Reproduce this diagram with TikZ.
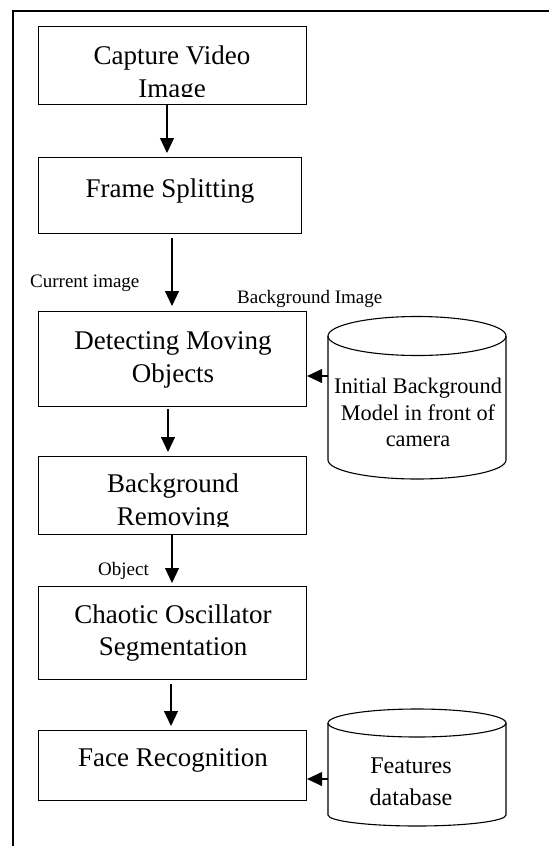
\documentclass[tikz,border=0pt]{standalone}
\usepackage{fontspec}
\setmainfont{Liberation Serif}
\usetikzlibrary{arrows.meta}
\begin{document}
\begin{tikzpicture}[x=1pt,y=-1pt,
  box/.style={draw, line width=1.1pt, inner sep=0pt, anchor=north west},
  big/.style={font=\fontsize{27}{33}\selectfont, inner sep=0pt, anchor=base},
  cyltxt/.style={font=\fontsize{22.3}{26}\selectfont, inner sep=0pt, anchor=base},
  cyltxtb/.style={font=\fontsize{24}{30}\selectfont, inner sep=0pt, anchor=base},
  small/.style={font=\fontsize{19}{22}\selectfont, inner sep=0pt, anchor=base west},
  arr/.style={line width=1.1pt, -{Triangle[length=15pt,width=14pt]}},
  cyl/.style={line width=1.1pt},
  frame/.style={line width=1.3pt}]
\path[use as bounding box] (0,0) rectangle (549,846);
% outer frame
\draw[frame] (13,846) -- (13,11) -- (549,11);

% boxes
\node[box, minimum width=268pt, minimum height=78pt] (cap) at (38,26) {};
\node[box, minimum width=263pt, minimum height=76pt] (frm) at (38,157) {};
\node[box, minimum width=268pt, minimum height=95pt] (det) at (38,311) {};
\node[box, minimum width=268pt, minimum height=78pt] (rem) at (38,456) {};
\node[box, minimum width=268pt, minimum height=93pt] (cha) at (38,586) {};
\node[box, minimum width=268pt, minimum height=70pt] (face) at (38,730) {};

% box texts
\begin{scope}
  \clip (38,26) rectangle (306,96.5);
  \node[big] (capA) at (172,64) {Capture Video};
  \node[big] (capB) at (172,97) {Image};
\end{scope}
\node[big] (frmA) at (170,197) {Frame Splitting};
\node[big] (detA) at (173,349) {Detecting Moving};
\node[big] (detB) at (173,382) {Objects};
\begin{scope}
  \clip (38,456) rectangle (306,526);
  \node[big] (remA) at (173,492) {Background};
  \node[big] (remB) at (173,525) {Removing};
\end{scope}
\node[big] (chaA) at (173,623) {Chaotic Oscillator};
\node[big] (chaB) at (173,655) {Segmentation};
\node[big] (faceA) at (173,766) {Face Recognition};

% cylinders
\node[inner sep=0pt, minimum width=178pt, minimum height=163pt, anchor=north west] (db1) at (328,316) {};
\draw[cyl] (417,336) ellipse [x radius=89pt, y radius=19.5pt];
\draw[cyl] (328,336) -- (328,460) arc[start angle=180, end angle=360, x radius=89pt, y radius=19pt] -- (506,336);
\node[cyltxt] (db1A) at (418,393) {Initial Background};
\node[cyltxt] (db1B) at (418,420) {Model in front of};
\node[cyltxt] (db1C) at (418,446) {camera};

\node[inner sep=0pt, minimum width=178pt, minimum height=117pt, anchor=north west] (db2) at (328,709) {};
\draw[cyl] (417,723) ellipse [x radius=89pt, y radius=14pt];
\draw[cyl] (328,723) -- (328,815) arc[start angle=180, end angle=360, x radius=89pt, y radius=11pt] -- (506,723);
\node[cyltxtb] (db2A) at (411,773) {Features};
\node[cyltxtb] (db2B) at (411,805) {database};

% labels
\node[small] (lcur) at (30,287) {Current image};
\node[small] (lbg) at (237,303) {Background Image};
\node[small] (lobj) at (98,575) {Object};

% connector columns
\coordinate (c1) at (167,0);
\coordinate (c2) at (172,0);
\coordinate (c3) at (168,0);
\coordinate (c4) at (172,0);
\coordinate (c5) at (171,0);
\coordinate (r1) at (0,376);
\coordinate (r2) at (0,779);

\draw[arr, shorten >=4pt] (cap.south -| c1) -- (frm.north -| c1);
\draw[arr, shorten <=4pt, shorten >=5pt] (frm.south -| c2) -- (det.north -| c2);
\draw[arr, shorten <=2pt, shorten >=4pt] (det.south -| c3) -- (rem.north -| c3);
\draw[arr, shorten >=3pt] (rem.south -| c4) -- (cha.north -| c4);
\draw[arr, shorten <=4pt, shorten >=4pt] (cha.south -| c5) -- (face.north -| c5);
\draw[arr] (db1.west |- r1) -- (det.east |- r1);
\draw[arr] (db2.west |- r2) -- (face.east |- r2);
\end{tikzpicture}
\end{document}
